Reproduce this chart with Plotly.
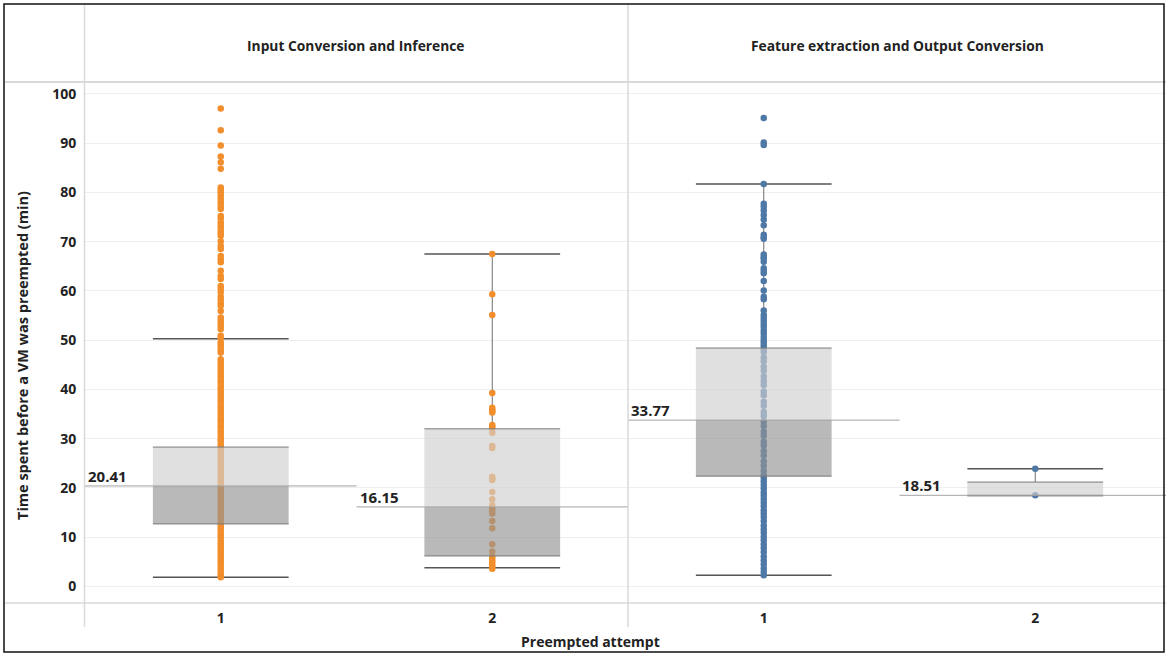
import plotly.graph_objects as go

# ---------------- data ----------------
panels = ["Input Conversion and Inference", "Feature extraction and Output Conversion"]
attempts = ["1", "2"]

# individual observations (minutes)
input_attempt1 = [97.0, 92.6, 89.5, 87.3, 86.1, 84.8,
                  81.0, 80.5, 80.0, 79.4, 78.8, 78.2, 77.7, 77.1, 76.6, 75.2, 74.7, 73.9, 73.3,
                  72.8, 72.2, 71.7, 71.2, 70.1, 69.1, 68.5, 67.1, 66.4, 65.8, 64.1, 63.0, 62.4,
                  61.0, 60.4, 59.7, 58.8, 58.2, 57.5, 57.0, 55.9, 54.6, 54.0, 53.4, 52.8, 52.2,
                  50.9, 50.4, 49.5, 49.1, 48.5, 47.9, 47.5, 46.1, 45.6, 45.1, 44.5, 44.0, 43.5,
                  42.9, 42.4, 41.8, 41.3, 40.7, 40.2, 39.7, 39.1, 38.6, 38.0, 37.5, 36.9, 36.4,
                  35.9, 35.3, 34.8, 34.2, 33.7, 33.2, 32.6, 32.1, 31.5, 31.0, 30.4, 29.9, 29.4,
                  28.8, 28.3, 27.7, 27.2, 26.7, 26.1, 25.6, 25.0, 24.5, 23.9, 23.4, 22.9, 22.3,
                  21.8, 21.2, 20.7, 20.1, 19.6, 19.1, 18.5, 18.0, 17.4, 16.9, 16.4, 15.8, 15.3,
                  14.7, 14.2, 13.7, 13.1, 12.6, 12.0, 11.5, 10.9, 10.4, 9.9, 9.3, 8.8, 8.2, 7.7,
                  7.2, 6.6, 6.1, 5.5, 5.0, 4.5, 3.9, 3.4, 2.8, 2.3, 1.9]
input_attempt2 = [67.5, 59.3, 55.1, 39.3, 36.3, 35.9, 35.6, 35.3, 32.8, 32.4, 32.1, 31.2,
                  28.5, 28.1, 22.3, 21.9, 21.6, 19.2, 17.7, 16.5, 15.8, 15.4, 14.8, 13.3, 11.8,
                  8.6, 7.1, 6.1, 5.6, 5.1, 4.6, 4.2, 3.8, 3.6]
feature_attempt1 = [95.1, 90.1, 89.6, 81.7, 77.7, 77.1, 76.3, 75.4, 74.5, 73.3, 71.4, 70.9,
                    70.6, 67.4, 66.9, 66.6, 65.9, 64.6, 64.1, 63.6, 62.0, 60.1, 58.8, 58.3,
                    56.0, 55.1, 54.5, 53.9, 53.3, 52.7, 52.0, 51.4, 50.7, 50.1, 49.5, 48.9,
                    48.3, 47.6, 46.5, 45.7, 44.6, 43.8, 42.6, 41.7, 40.9, 39.6, 38.8, 37.5,
                    36.7, 35.4, 34.6, 33.5, 32.6, 31.4, 30.6, 29.4, 28.6, 27.5, 26.6, 25.4,
                    24.5, 23.5, 22.6, 22.0, 21.3,
                    20.6, 19.9, 19.1, 18.4, 17.7, 17.0, 16.3, 15.5, 14.8, 14.1, 13.3,
                    12.4, 11.6, 10.9, 10.1, 9.4, 8.6, 7.8, 7.0, 6.1, 5.3, 4.5, 3.7, 3.0,
                    2.3]
feature_attempt2 = [23.9, 18.5]

# box-plot statistics per cell: (Input 1, Input 2, Feature 1, Feature 2)
q1_vals = [12.7, 6.2, 22.4, 18.45]
median_vals = [20.41, 16.15, 33.77, 18.51]
q3_vals = [28.3, 32.0, 48.4, 21.2]
lower_whisker = [1.9, 3.8, 2.3, 18.45]
upper_whisker = [50.3, 67.5, 81.7, 23.9]

y_ticks = [0, 10, 20, 30, 40, 50, 60, 70, 80, 90, 100]

# ---------------- style ----------------
W, H = 1166, 654
ORANGE = "#F28E2B"
BLUE = "#4E79A7"
FONT = "Open Sans"
TXT = "#222222"
BOX_UP = "rgba(207,207,207,0.65)"
BOX_LO = "rgba(147,147,147,0.65)"

def px_x(p):
    return p / W

def px_y(p):
    return 1 - p / H

fig = go.Figure()

cells = [
    ("x", 1, input_attempt1, ORANGE),
    ("x", 2, input_attempt2, ORANGE),
    ("x2", 1, feature_attempt1, BLUE),
    ("x2", 2, feature_attempt2, BLUE),
]

shapes = []
annotations = []
for i, (xa, pos, vals, col) in enumerate(cells):
    fig.add_trace(go.Scatter(
        x=[pos] * len(vals), y=vals, mode="markers", xaxis=xa, yaxis="y",
        marker=dict(size=6.5, color=col, line=dict(width=0)),
        showlegend=False, hoverinfo="y"))
    q1, md, q3 = q1_vals[i], median_vals[i], q3_vals[i]
    lw, uw = lower_whisker[i], upper_whisker[i]
    # whisker stems and caps (beneath points)
    for a, b in ((q3, uw), (q1, lw)):
        shapes.append(dict(type="line", xref=xa, yref="y", x0=pos, x1=pos, y0=a, y1=b,
                           line=dict(color="#6E6E6E", width=1), layer="between"))
    for w in (lw, uw):
        shapes.append(dict(type="line", xref=xa, yref="y", x0=pos - 0.25, x1=pos + 0.25,
                           y0=w, y1=w, line=dict(color="#555555", width=1.5), layer="between"))
    # box halves (above points)
    shapes.append(dict(type="rect", xref=xa, yref="y", x0=pos - 0.25, x1=pos + 0.25,
                       y0=md, y1=q3, fillcolor=BOX_UP, line=dict(width=0), layer="above"))
    shapes.append(dict(type="rect", xref=xa, yref="y", x0=pos - 0.25, x1=pos + 0.25,
                       y0=q1, y1=md, fillcolor=BOX_LO, line=dict(width=0), layer="above"))
    for e in (q1, q3):
        shapes.append(dict(type="line", xref=xa, yref="y", x0=pos - 0.25, x1=pos + 0.25,
                           y0=e, y1=e, line=dict(color="#7A7A7A", width=1), layer="above"))
    # median reference line across the cell
    shapes.append(dict(type="line", xref=xa, yref="y", x0=pos - 0.5, x1=pos + 0.5,
                       y0=md, y1=md, line=dict(color="#A3A3A3", width=1), layer="above"))
    annotations.append(dict(xref=xa, yref="y", x=pos - 0.5, y=md, text=f"{md:.2f}",
                            xanchor="left", yanchor="bottom", showarrow=False, xshift=1, yshift=-2,
                            font=dict(family=FONT, size=15, color=TXT, weight="bold")))

# frame / header separators (paper coords)
grey = "#D9D9D9"
shapes += [
    dict(type="line", xref="paper", yref="paper", x0=px_x(5), x1=1, y0=px_y(82), y1=px_y(82),
         line=dict(color=grey, width=2)),
    dict(type="line", xref="paper", yref="paper", x0=px_x(5), x1=1, y0=px_y(603), y1=px_y(603),
         line=dict(color=grey, width=1.5)),
    dict(type="line", xref="paper", yref="paper", x0=px_x(84.5), x1=px_x(84.5), y0=px_y(5), y1=px_y(627),
         line=dict(color=grey, width=1.5)),
    dict(type="line", xref="paper", yref="paper", x0=px_x(628), x1=px_x(628), y0=px_y(5), y1=px_y(627),
         line=dict(color=grey, width=1.5)),
    dict(type="rect", xref="paper", yref="paper", x0=px_x(4), x1=px_x(1164), y0=px_y(652), y1=px_y(4),
         line=dict(color="#111111", width=1.5)),
]

def label(x, y, text, size, angle=0):
    return dict(xref="paper", yref="paper", x=px_x(x), y=px_y(y), text=text, showarrow=False,
                xanchor="center", yanchor="middle", textangle=angle,
                font=dict(family=FONT, size=size, color=TXT, weight="bold"))

annotations += [
    label(356.5, 45, panels[0], 13.8),
    label(897, 45, panels[1], 13.8),
    label(590, 641, "Preempted attempt", 14),
    label(22, 356, "Time spent before a VM was preempted (min)", 14.5, -90),
]

tickfont = dict(family=FONT, size=14, color=TXT, weight="bold")
xcommon = dict(tickvals=[1, 2], ticktext=attempts, showgrid=False, zeroline=False, showline=False,
               tickfont=tickfont, ticks="outside", ticklen=2, tickcolor="rgba(0,0,0,0)", fixedrange=True)
fig.update_layout(
    width=W, height=H, margin=dict(l=0, r=0, t=0, b=0),
    paper_bgcolor="white", plot_bgcolor="white", showlegend=False,
    xaxis=dict(domain=[px_x(85), px_x(628)], range=[0.5, 2.5], anchor="y", **xcommon),
    xaxis2=dict(domain=[px_x(628), 1], range=[0.5, 0.5 + (W - 628) / 271.5], anchor="y", **xcommon),
    yaxis=dict(domain=[px_y(603), px_y(82)], range=[-3.35, 102.4], anchor="x",
               tickvals=y_ticks, ticktext=[str(v) for v in y_ticks], tickfont=tickfont,
               showgrid=True, gridcolor="#EFEFEF", gridwidth=1, zeroline=False, showline=False,
               ticks="outside", ticklen=5, tickcolor="rgba(0,0,0,0)"),
    shapes=shapes, annotations=annotations,
)

fig.write_html("out.html")
